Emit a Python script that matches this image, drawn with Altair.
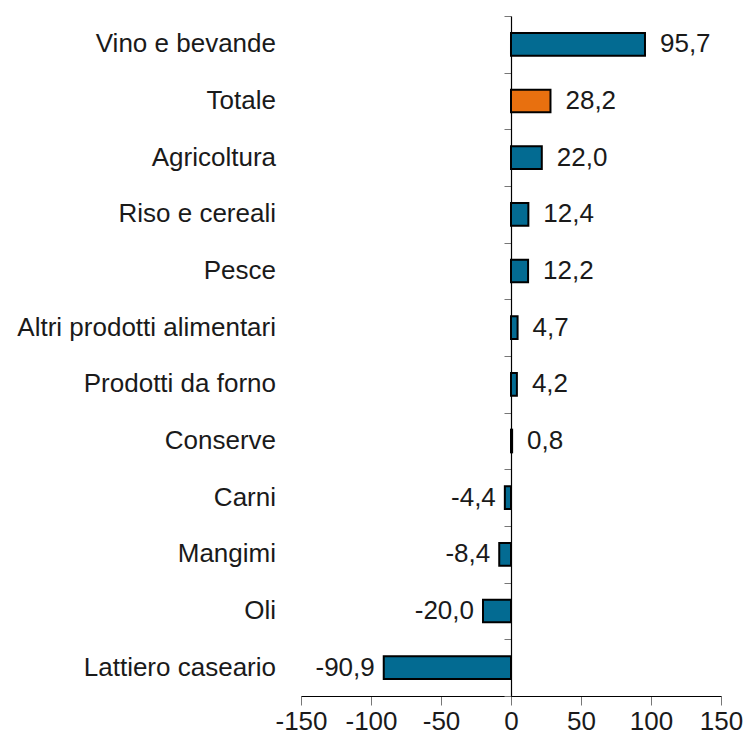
import altair as alt
import pandas as pd

categories = ["Vino e bevande", "Totale", "Agricoltura", "Riso e cereali", "Pesce",
              "Altri prodotti alimentari", "Prodotti da forno", "Conserve", "Carni",
              "Mangimi", "Oli", "Lattiero caseario"]
values = [95.7, 28.2, 22.0, 12.4, 12.2, 4.7, 4.2, 0.8, -4.4, -8.4, -20.0, -90.9]
groups = ["settore", "totale"] + ["settore"] * 10
x_ticks = [-150, -100, -50, 0, 50, 100, 150]

df = pd.DataFrame({"cat": categories, "v": values, "g": groups})

FONT = "Liberation Sans"
FS = 26
TXT = "#1a1a1a"
W = 420

y_sort = alt.Y("cat:N", sort=categories, title=None,
               scale=alt.Scale(paddingInner=0, paddingOuter=0),
               axis=alt.Axis(orient="left", offset=-W / 2, labels=False, domain=True,
                             domainColor="black", domainWidth=1.2, ticks=True,
                             tickBand="extent", tickColor="#777777", tickSize=7))

x_enc = alt.X("v:Q", title=None,
              scale=alt.Scale(domain=[-150, 150], nice=False),
              axis=alt.Axis(values=x_ticks, grid=False, labelExpr="'' + datum.value",
                            labelOverlap=False, labelFlush=False,
                            domainColor="black", domainWidth=1.2, tickColor="#777777",
                            tickSize=9, labelFontSize=FS, labelFont=FONT,
                            labelColor=TXT, labelPadding=3))

bars = alt.Chart(df).mark_bar(height={"band": 0.4}, stroke="black", strokeWidth=2).encode(
    x=x_enc,
    x2=alt.datum(0),
    y=y_sort,
    color=alt.Color("g:N", scale=alt.Scale(domain=["settore", "totale"],
                                           range=["#036b92", "#e8700f"]), legend=None),
)

base = alt.Chart(df).transform_calculate(
    lab="replace(format(datum.v, '.1f'), '.', ',')"
)
base = base.transform_calculate(lab="replace(datum.lab, '\u2212', '-')")

y_plain = alt.Y("cat:N", sort=categories)

txt_pos = base.transform_filter("datum.v >= 0").mark_text(
    align="left", baseline="middle", dx=15, fontSize=FS, font=FONT, color=TXT
).encode(x="v:Q", y=y_plain, text="lab:N")

txt_neg = base.transform_filter("datum.v < 0").mark_text(
    align="right", baseline="middle", dx=-9, fontSize=FS, font=FONT, color=TXT
).encode(x="v:Q", y=y_plain, text="lab:N")

cat_labels = alt.Chart(df).mark_text(
    align="right", baseline="middle", fontSize=FS, font=FONT, color=TXT
).encode(x=alt.value(-25), y=y_plain, text="cat:N")

chart = alt.layer(bars, txt_pos, txt_neg, cat_labels).properties(
    width=W, height=680, padding={"left": 9, "top": 7, "right": 0, "bottom": 5}
).configure_view(stroke=None)

chart.save("out.html", embed_options={"renderer": "svg", "actions": False})
